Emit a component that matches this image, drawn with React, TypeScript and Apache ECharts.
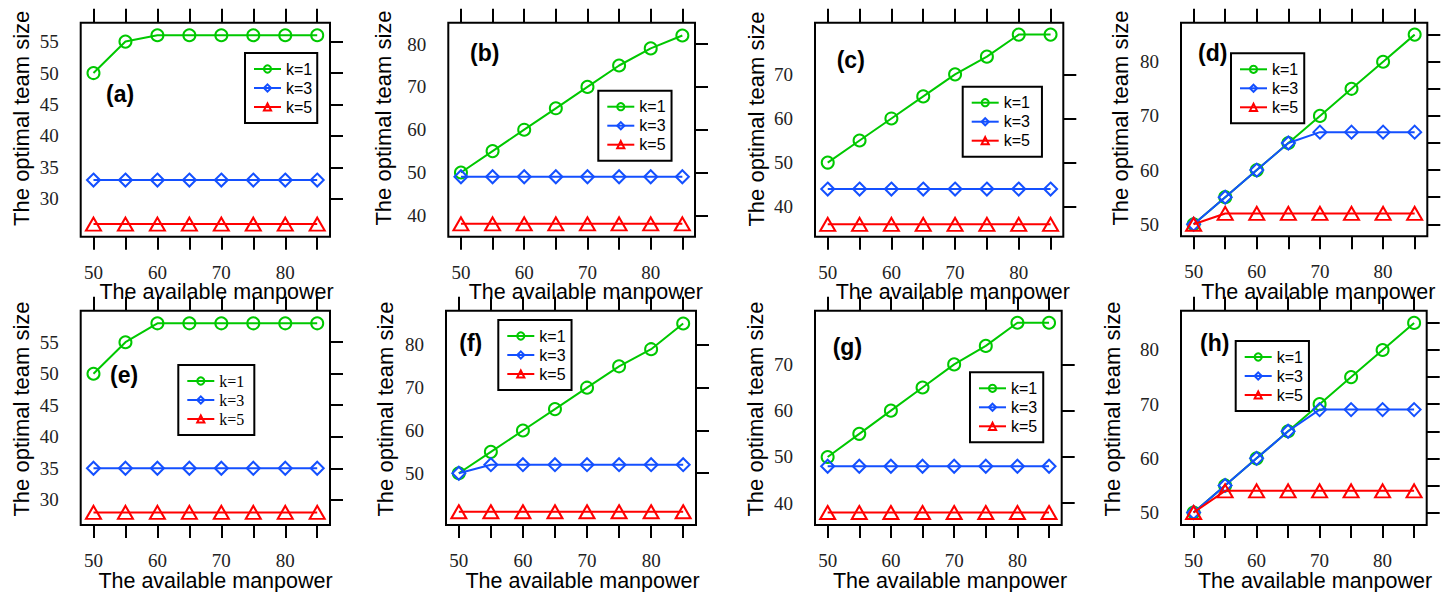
import React, { useEffect, useRef } from "react";
import * as echarts from "echarts";

// ---------- data ----------
const manpower = [50, 55, 60, 65, 70, 75, 80, 85];
const seriesNames = ["k=1", "k=3", "k=5"];
const panelLabels = ["(a)", "(b)", "(c)", "(d)", "(e)", "(f)", "(g)", "(h)"];
const xTitle = "The available manpower";
const yTitle = "The optimal team size";
const xTickValues = [50, 55, 60, 65, 70, 75, 80, 85];
const xLabelValues = [50, 60, 70, 80];

const aK1 = [50, 55, 56, 56, 56, 56, 56, 56];
const aK3 = [33, 33, 33, 33, 33, 33, 33, 33];
const aK5 = [26, 26, 26, 26, 26, 26, 26, 26];

const bK1 = [50, 55, 60, 65, 70, 75, 79, 82];
const bK3 = [49, 49, 49, 49, 49, 49, 49, 49];
const bK5 = [38, 38, 38, 38, 38, 38, 38, 38];

const cK1 = [50, 55, 60, 65, 70, 74, 79, 79];
const cK3 = [44, 44, 44, 44, 44, 44, 44, 44];
const cK5 = [36, 36, 36, 36, 36, 36, 36, 36];

const dK1 = [50, 55, 60, 65, 70, 75, 80, 85];
const dK3 = [50, 55, 60, 65, 67, 67, 67, 67];
const dK5 = [50, 52, 52, 52, 52, 52, 52, 52];

const eK1 = [50, 55, 58, 58, 58, 58, 58, 58];
const eK3 = [35, 35, 35, 35, 35, 35, 35, 35];
const eK5 = [28, 28, 28, 28, 28, 28, 28, 28];

const fK1 = [50, 55, 60, 65, 70, 75, 79, 85];
const fK3 = [50, 52, 52, 52, 52, 52, 52, 52];
const fK5 = [41, 41, 41, 41, 41, 41, 41, 41];

const gK1 = [50, 55, 60, 65, 70, 74, 79, 79];
const gK3 = [48, 48, 48, 48, 48, 48, 48, 48];
const gK5 = [38, 38, 38, 38, 38, 38, 38, 38];

const hK1 = [50, 55, 60, 65, 70, 75, 80, 85];
const hK3 = [50, 55, 60, 65, 69, 69, 69, 69];
const hK5 = [50, 54, 54, 54, 54, 54, 54, 54];

const yRanges = [
  [24, 58], [35, 85], [33.2, 81.7], [47.8, 87.2],
  [26, 60], [37.9, 88], [35.3, 81.6], [47.7, 87.25],
];
const yTickValues = [
  [30, 35, 40, 45, 50, 55], [40, 50, 60, 70, 80], [40, 50, 60, 70], [50, 55, 60, 65, 70, 75, 80, 85],
  [30, 35, 40, 45, 50, 55], [50, 60, 70, 80], [40, 50, 60, 70], [50, 55, 60, 65, 70, 75, 80, 85],
];
const yLabelValues = [
  [30, 35, 40, 45, 50, 55], [40, 50, 60, 70, 80], [40, 50, 60, 70], [50, 60, 70, 80],
  [30, 35, 40, 45, 50, 55], [50, 60, 70, 80], [40, 50, 60, 70], [50, 60, 70, 80],
];

const panelData = [
  [aK1, aK3, aK5], [bK1, bK3, bK5], [cK1, cK3, cK5], [dK1, dK3, dK5],
  [eK1, eK3, eK5], [fK1, fK3, fK5], [gK1, gK3, gK5], [hK1, hK3, hK5],
];

// ---------- layout & style ----------
const gridBoxes = [
  [80.7, 22.7, 249.3, 214], [448.3, 22.7, 246.7, 214], [815, 22.7, 248.3, 214], [1181, 22.7, 246.3, 213.5],
  [80.7, 310.7, 249.3, 214.3], [446, 310.7, 250, 214.3], [815, 310.7, 246.7, 214.3], [1181, 310.7, 245.7, 214.3],
];
const legendPos = [
  [245, 53, 5], [598.3, 90.7, 6], [962.7, 86.7, 12], [1231, 53.3, 6],
  [178.3, 365, 10], [498.3, 320, 6], [970, 372.3, 6], [1235.7, 341, 6],
];
const labelPos = [
  [106, 94], [470, 53.3], [836.7, 60], [1198, 53.3],
  [110, 375], [459.3, 343.3], [832.7, 347.3], [1200, 343.3],
];
const xTitlePos = [
  [216.5, 292], [585.8, 292], [952.8, 292], [1318.3, 292],
  [215.5, 580.5], [582.5, 580.5], [950, 580.5], [1315, 580.5],
];
const yTitlePos = [
  [21.7, 118.3], [383.3, 118], [756.7, 119], [1120.5, 118],
  [21.7, 409], [385, 409], [755.5, 409], [1112.5, 409],
];

const colors = ["#00c800", "#1450ff", "#ff0000"];
const symbols = ["circle", "diamond", "triangle"];
const symbolSizes: any[] = [12, 13, [15, 13]];
const SANS = "Liberation Sans, Arial, sans-serif";
const SERIF = "Liberation Serif, DejaVu Serif, serif";

export default function App() {
  const ref = useRef<HTMLDivElement>(null);

  useEffect(() => {
    if (!ref.current) return;
    const chart = echarts.init(ref.current, null, { renderer: "svg" });

    const tickStyle = { color: "#000", width: 2 };
    const grid: any[] = [];
    const xAxis: any[] = [];
    const yAxis: any[] = [];
    const series: any[] = [];
    const legend: any[] = [];
    const graphic: any[] = [];

    gridBoxes.forEach((g, i) => {
      grid.push({
        left: g[0], top: g[1], width: g[2], height: g[3],
        show: true, borderColor: "#000", borderWidth: 2, backgroundColor: "transparent",
      });
      xAxis.push({
        type: "value", gridIndex: i, position: "bottom", min: 48, max: 87,
        axisLine: { show: false }, splitLine: { show: false },
        axisTick: { show: true, customValues: xTickValues, length: 13, lineStyle: tickStyle },
        axisLabel: {
          customValues: xLabelValues, margin: 27, lineHeight: 17,
          fontFamily: SERIF, fontSize: 19, color: "#222",
        },
      });
      xAxis.push({
        type: "value", gridIndex: i, position: "top", min: 48, max: 87,
        axisLine: { show: false }, splitLine: { show: false },
        axisTick: { show: true, customValues: xTickValues, length: 14, lineStyle: tickStyle },
        axisLabel: { show: false },
      });
      yAxis.push({
        type: "value", gridIndex: i, position: "left", min: yRanges[i][0], max: yRanges[i][1],
        axisLine: { show: false }, splitLine: { show: false },
        axisTick: { show: false },
        axisLabel: {
          customValues: yLabelValues[i], margin: 22,
          fontFamily: SERIF, fontSize: 19, color: "#222",
        },
      });
      yAxis.push({
        type: "value", gridIndex: i, position: "right", min: yRanges[i][0], max: yRanges[i][1],
        axisLine: { show: false }, splitLine: { show: false },
        axisTick: { show: true, customValues: yTickValues[i], length: 13, lineStyle: tickStyle },
        axisLabel: { show: false },
      });

      panelData[i].forEach((vals, k) => {
        series.push({
          type: "line",
          name: seriesNames[k],
          xAxisIndex: 2 * i,
          yAxisIndex: 2 * i,
          data: manpower.map((x, j) => [x, vals[j]]),
          symbol: symbols[k],
          symbolSize: symbolSizes[k],
          showAllSymbol: true,
          lineStyle: { color: colors[k], width: 2 },
          itemStyle: { color: "rgba(0,0,0,0)", borderColor: colors[k], borderWidth: 2 },
          emphasis: { disabled: true },
          z: 2 + k,
        });
      });

      const lp = legendPos[i];
      legend.push({
        orient: "vertical",
        left: lp[0], top: lp[1],
        data: seriesNames,
        selectedMode: false,
        itemWidth: 27, itemHeight: 9, itemGap: 3,
        padding: [8, lp[2], 8, 8],
        borderColor: "#000", borderWidth: 2,
        backgroundColor: "#fff",
        textStyle: {
          fontFamily: i === 4 ? SERIF : SANS,
          fontSize: 16,
          lineHeight: i === 4 ? 15 : 16,
          color: "#000",
        },
      });

      graphic.push({
        type: "text", x: labelPos[i][0], y: labelPos[i][1],
        style: {
          text: panelLabels[i], font: `bold 23px ${SANS}`, fill: "#000",
          align: "left", verticalAlign: "middle",
        },
      });
      graphic.push({
        type: "text", x: xTitlePos[i][0], y: xTitlePos[i][1],
        style: {
          text: xTitle, font: `21.5px ${SANS}`, fill: "#000",
          align: "center", verticalAlign: "middle", lineHeight: 21,
        },
      });
      graphic.push({
        type: "text", x: yTitlePos[i][0], y: yTitlePos[i][1], rotation: Math.PI / 2,
        style: {
          text: yTitle, font: `22px ${SANS}`, fill: "#000",
          align: "center", verticalAlign: "middle",
        },
      });
    });

    chart.setOption({
      animation: false,
      backgroundColor: "#fff",
      grid, xAxis, yAxis, series, legend, graphic,
    });

    return () => chart.dispose();
  }, []);

  return (
    <div
      ref={ref}
      style={{ position: "absolute", left: 0, top: 0, width: 1450, height: 592 }}
    />
  );
}
